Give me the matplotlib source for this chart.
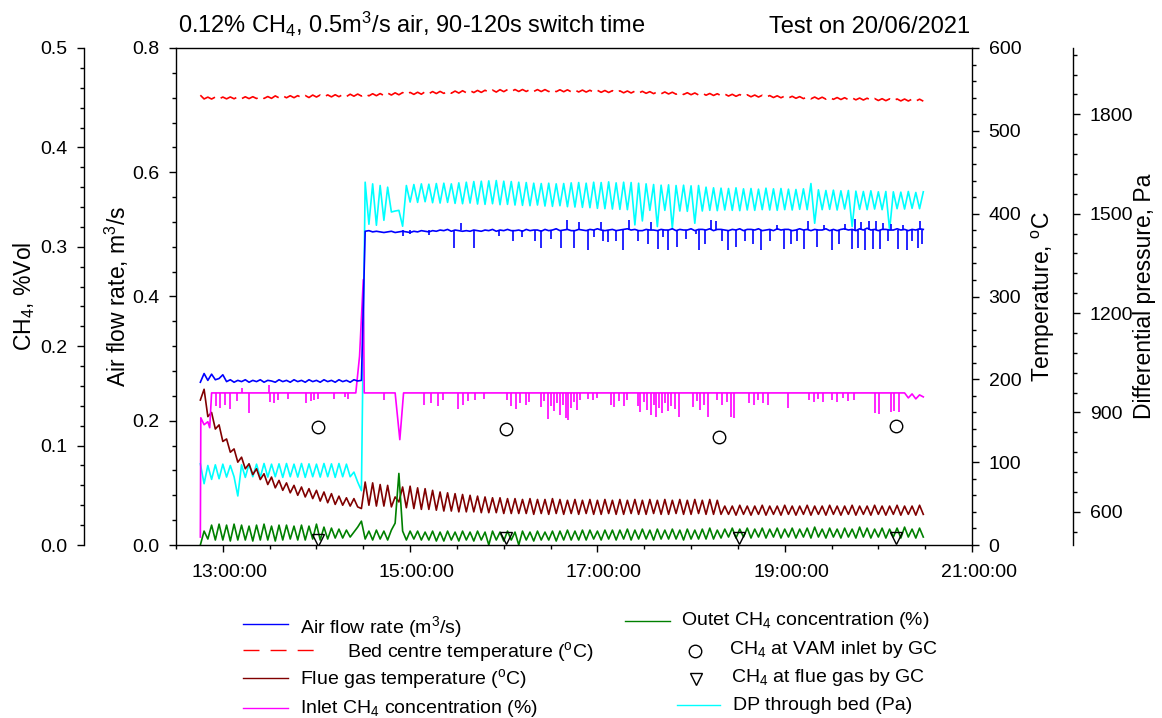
import numpy as np
import matplotlib
matplotlib.use("Agg")
import matplotlib.pyplot as plt
import matplotlib.transforms as mtransforms
from matplotlib.lines import Line2D
from matplotlib.ticker import MultipleLocator, FuncFormatter, FormatStrFormatter

plt.rcParams["font.family"] = "Liberation Sans"
plt.rcParams["mathtext.fontset"] = "custom"
plt.rcParams["mathtext.rm"] = "Liberation Sans"
plt.rcParams["mathtext.default"] = "regular"

# logger samples, every 0.04 h starting at 12:45:36 (time in hours)
t_start, t_step = 12.76, 0.04

air_flow = [
    0.262, 0.276, 0.265, 0.275, 0.266, 0.268, 0.274, 0.263, 0.266, 0.262,
    0.265, 0.263, 0.266, 0.262, 0.265, 0.263, 0.266, 0.262, 0.265, 0.264,
    0.262, 0.266, 0.263, 0.265, 0.262, 0.266, 0.263, 0.265, 0.262, 0.266,
    0.263, 0.265, 0.262, 0.266, 0.263, 0.265, 0.262, 0.266, 0.263, 0.265,
    0.262, 0.266, 0.264, 0.265, 0.505, 0.506, 0.504, 0.505, 0.504, 0.503,
    0.504, 0.505, 0.503, 0.504, 0.505, 0.504, 0.503, 0.505, 0.504, 0.506,
    0.505, 0.504, 0.506, 0.505, 0.507, 0.506, 0.508, 0.505, 0.507, 0.506,
    0.505, 0.506, 0.505, 0.507, 0.506, 0.505, 0.507, 0.506, 0.508, 0.505,
    0.507, 0.506, 0.508, 0.506, 0.506, 0.507, 0.505, 0.508, 0.506, 0.507,
    0.507, 0.505, 0.508, 0.506, 0.507, 0.509, 0.506, 0.507, 0.508, 0.506,
    0.506, 0.508, 0.507, 0.506, 0.508, 0.507, 0.509, 0.507, 0.506, 0.507,
    0.508, 0.506, 0.507, 0.508, 0.509, 0.507, 0.508, 0.506, 0.506, 0.508,
    0.507, 0.507, 0.506, 0.508, 0.507, 0.507, 0.509, 0.506, 0.508, 0.507,
    0.507, 0.509, 0.506, 0.508, 0.508, 0.507, 0.509, 0.506, 0.508, 0.508,
    0.507, 0.506, 0.508, 0.507, 0.509, 0.506, 0.508, 0.508, 0.507, 0.509,
    0.506, 0.507, 0.508, 0.506, 0.509, 0.507, 0.508, 0.508, 0.506, 0.507,
    0.509, 0.507, 0.508, 0.506, 0.508, 0.507, 0.507, 0.509, 0.506, 0.508,
    0.506, 0.508, 0.509, 0.507, 0.508, 0.506, 0.509, 0.507, 0.510, 0.507,
    0.508, 0.506, 0.508, 0.508, 0.507, 0.507, 0.509, 0.507, 0.508, 0.506,
    0.508, 0.507, 0.509, 0.508,
]
# short excursions of the air flow signal after the switch to 0.5 m3/s
air_spike_base = 0.507
air_spike_t = [
    14.92, 15.00, 15.20, 15.47, 15.545, 15.68, 15.95, 16.10, 16.20, 16.33,
    16.40, 16.50, 16.61, 16.68, 16.75, 16.80, 16.90, 16.96, 17.04, 17.06,
    17.11, 17.20, 17.27, 17.34, 17.43, 17.54, 17.57, 17.65, 17.70, 17.75,
    17.85, 17.95, 18.05, 18.09, 18.15, 18.21, 18.27, 18.33, 18.39, 18.48,
    18.58, 18.66, 18.75, 18.84, 18.92, 18.99, 19.07, 19.13, 19.21, 19.25,
    19.35, 19.42, 19.50, 19.58, 19.64, 19.72, 19.75, 19.78, 19.82, 19.86,
    19.90, 19.94, 19.98, 20.02, 20.05, 20.10, 20.14, 20.21, 20.26, 20.31,
    20.36, 20.42, 20.44, 20.47,
]
air_spike_v = [
    0.497, 0.500, 0.499, 0.478, 0.518, 0.478, 0.497, 0.490, 0.495, 0.490,
    0.478, 0.492, 0.478, 0.523, 0.478, 0.520, 0.475, 0.495, 0.520, 0.490,
    0.488, 0.490, 0.475, 0.523, 0.490, 0.485, 0.520, 0.476, 0.495, 0.475,
    0.480, 0.492, 0.500, 0.475, 0.485, 0.523, 0.521, 0.490, 0.475, 0.480,
    0.490, 0.485, 0.475, 0.490, 0.515, 0.476, 0.485, 0.490, 0.477, 0.522,
    0.480, 0.515, 0.475, 0.485, 0.517, 0.476, 0.524, 0.478, 0.520, 0.475,
    0.522, 0.477, 0.521, 0.476, 0.519, 0.490, 0.517, 0.476, 0.515, 0.475,
    0.490, 0.478, 0.522, 0.485,
]

bed_temp = [
    543.0, 538.5, 540.7, 538.4, 540.8, 538.5, 540.8, 538.6, 540.9, 538.7,
    541.0, 538.8, 541.1, 538.9, 541.2, 539.0, 541.3, 539.1, 541.4, 539.2,
    542.2, 539.8, 542.3, 539.9, 542.4, 540.0, 542.5, 540.1, 542.6, 540.2,
    543.2, 540.8, 543.3, 540.9, 543.4, 541.0, 543.6, 541.2, 543.8, 541.4,
    544.2, 541.8, 544.4, 542.0, 544.6, 542.2, 544.8, 542.4, 545.0, 542.6,
    545.6, 543.2, 545.9, 543.5, 546.2, 543.8, 546.4, 544.0, 546.6, 544.2,
    547.2, 544.8, 547.4, 545.0, 547.6, 545.2, 547.8, 545.4, 548.0, 545.6,
    548.4, 546.0, 548.6, 546.2, 548.8, 546.4, 549.0, 546.6, 549.2, 546.8,
    549.7, 547.3, 549.8, 547.4, 549.9, 547.5, 549.9, 547.5, 549.9, 547.5,
    549.8, 547.4, 549.8, 547.4, 549.7, 547.3, 549.6, 547.2, 549.5, 547.1,
    549.3, 546.9, 549.2, 546.8, 549.0, 546.6, 548.9, 546.5, 548.7, 546.3,
    548.5, 546.1, 548.3, 545.9, 548.1, 545.7, 547.9, 545.5, 547.7, 545.3,
    547.3, 544.9, 547.1, 544.7, 546.9, 544.5, 546.6, 544.2, 546.3, 543.9,
    546.0, 543.6, 545.7, 543.3, 545.4, 543.0, 545.1, 542.7, 544.8, 542.4,
    544.4, 542.0, 544.1, 541.7, 543.8, 541.4, 543.5, 541.1, 543.2, 540.8,
    542.9, 540.5, 542.6, 540.2, 542.3, 539.9, 542.0, 539.6, 541.7, 539.3,
    541.3, 538.9, 541.0, 538.6, 540.8, 538.4, 540.6, 538.2, 540.4, 538.0,
    540.2, 537.8, 540.0, 537.6, 539.8, 537.4, 539.6, 537.2, 539.4, 537.0,
    539.0, 536.6, 538.8, 536.4, 538.6, 536.2, 538.5, 536.1, 538.4, 536.0,
    538.3, 535.9, 538.2, 535.8,
]

flue_temp = [
    175, 188, 155, 160, 140, 145, 125, 128, 112, 116,
    100, 106, 92, 98, 85, 92, 79, 86, 73, 82,
    69, 78, 66, 75, 63, 72, 60, 70, 58, 68,
    56, 66, 53, 64, 51, 62, 49, 59, 48, 57,
    47, 56, 46, 44, 76, 48, 75, 47, 73, 47,
    72, 46, 58, 52, 70, 45, 71, 44, 69, 43,
    68, 43, 66, 42, 64, 41, 63, 41, 62, 40,
    61, 40, 60, 40, 59, 39, 58, 39, 57, 39,
    57, 38, 56, 38, 56, 38, 55, 38, 56, 37,
    55, 38, 55, 37, 56, 38, 55, 37, 54, 38,
    55, 37, 54, 38, 55, 37, 54, 37, 55, 38,
    54, 37, 55, 37, 54, 38, 55, 37, 54, 37,
    55, 38, 54, 37, 55, 37, 54, 38, 55, 37,
    54, 37, 55, 38, 54, 37, 55, 37, 54, 37,
    47, 37, 47, 36, 48, 37, 47, 36, 47, 37,
    48, 36, 47, 37, 47, 36, 48, 37, 47, 36,
    47, 37, 48, 36, 47, 37, 47, 36, 48, 37,
    47, 36, 47, 37, 48, 36, 47, 37, 47, 36,
    48, 37, 47, 36, 47, 37, 48, 36, 47, 37,
    47, 36, 48, 37,
]

# inlet CH4: break points of the trace, plus its short downward/upward excursions
inlet_t = [12.76, 12.765, 12.80, 12.84, 12.86, 12.88, 14.42, 14.46, 14.50, 14.51,
           14.84, 14.89, 14.93, 20.28, 20.32, 20.36, 20.40, 20.44, 20.48]
inlet_ch4 = [0.008, 0.128, 0.121, 0.124, 0.118, 0.153, 0.153, 0.190, 0.267, 0.153,
             0.153, 0.106, 0.153, 0.153, 0.148, 0.152, 0.147, 0.151, 0.149]
inlet_spike_base = 0.153
inlet_spike_t = [
    12.93, 12.97, 13.02, 13.08, 13.15, 13.20, 13.28, 13.49, 13.50, 13.55,
    13.59, 13.70, 13.89, 13.94, 13.97, 14.02, 14.19, 14.30, 14.34, 14.72,
    15.15, 15.22, 15.30, 15.35, 15.51, 15.57, 15.62, 15.69, 15.79, 16.03,
    16.08, 16.13, 16.17, 16.24, 16.27, 16.40, 16.43, 16.47, 16.50, 16.54,
    16.57, 16.60, 16.63, 16.66, 16.69, 16.72, 16.75, 16.78, 16.81, 16.90,
    16.95, 17.00, 17.14, 17.18, 17.23, 17.28, 17.32, 17.43, 17.46, 17.50,
    17.53, 17.57, 17.60, 17.63, 17.66, 17.69, 17.72, 17.75, 17.79, 17.83,
    17.87, 18.02, 18.06, 18.10, 18.14, 18.18, 18.28, 18.33, 18.38, 18.43,
    18.46, 18.62, 18.67, 18.72, 18.77, 18.82, 19.03, 19.26, 19.31, 19.36,
    19.41, 19.50, 19.56, 19.62, 19.68, 19.74, 19.96, 20.01, 20.13, 20.17,
    20.22,
]
inlet_spike_v = [
    0.140, 0.138, 0.141, 0.137, 0.145, 0.158, 0.133, 0.161, 0.144, 0.143,
    0.146, 0.147, 0.143, 0.145, 0.146, 0.147, 0.147, 0.149, 0.147, 0.146,
    0.141, 0.143, 0.140, 0.146, 0.137, 0.141, 0.145, 0.146, 0.147, 0.146,
    0.140, 0.137, 0.143, 0.141, 0.144, 0.139, 0.145, 0.127, 0.140, 0.135,
    0.143, 0.131, 0.141, 0.128, 0.126, 0.138, 0.144, 0.136, 0.146, 0.147,
    0.146, 0.148, 0.141, 0.139, 0.145, 0.140, 0.146, 0.140, 0.134, 0.144,
    0.136, 0.131, 0.141, 0.129, 0.138, 0.133, 0.143, 0.135, 0.140, 0.137,
    0.129, 0.139, 0.145, 0.136, 0.141, 0.129, 0.146, 0.141, 0.144, 0.129,
    0.128, 0.143, 0.141, 0.146, 0.143, 0.141, 0.138, 0.146, 0.144, 0.147,
    0.144, 0.146, 0.144, 0.148, 0.145, 0.146, 0.133, 0.132, 0.134, 0.135,
    0.134,
]

outlet_ch4 = [
    0.000, 0.014, 0.006, 0.020, 0.005, 0.021, 0.005, 0.020, 0.004, 0.021,
    0.005, 0.020, 0.005, 0.019, 0.004, 0.020, 0.005, 0.021, 0.005, 0.019,
    0.004, 0.020, 0.005, 0.020, 0.006, 0.019, 0.005, 0.020, 0.005, 0.019,
    0.006, 0.021, 0.005, 0.018, 0.006, 0.017, 0.007, 0.016, 0.007, 0.015,
    0.008, 0.013, 0.018, 0.024, 0.006, 0.014, 0.005, 0.015, 0.006, 0.014,
    0.005, 0.015, 0.022, 0.072, 0.014, 0.005, 0.014, 0.006, 0.014, 0.005,
    0.013, 0.005, 0.014, 0.004, 0.013, 0.004, 0.014, 0.005, 0.013, 0.004,
    0.014, 0.005, 0.013, 0.004, 0.014, 0.005, 0.013, 0.000, 0.014, 0.005,
    0.013, 0.004, 0.014, 0.005, 0.013, 0.000, 0.014, 0.005, 0.013, 0.004,
    0.014, 0.005, 0.013, 0.005, 0.014, 0.004, 0.014, 0.005, 0.015, 0.005,
    0.014, 0.005, 0.015, 0.005, 0.015, 0.006, 0.014, 0.005, 0.015, 0.006,
    0.015, 0.005, 0.015, 0.006, 0.016, 0.005, 0.015, 0.006, 0.016, 0.006,
    0.015, 0.005, 0.016, 0.006, 0.015, 0.006, 0.016, 0.006, 0.015, 0.005,
    0.016, 0.006, 0.015, 0.006, 0.016, 0.006, 0.017, 0.006, 0.015, 0.007,
    0.016, 0.008, 0.017, 0.007, 0.016, 0.008, 0.017, 0.007, 0.016, 0.008,
    0.017, 0.007, 0.016, 0.008, 0.017, 0.007, 0.016, 0.008, 0.017, 0.007,
    0.016, 0.008, 0.017, 0.007, 0.018, 0.008, 0.016, 0.007, 0.017, 0.008,
    0.016, 0.007, 0.017, 0.008, 0.016, 0.007, 0.018, 0.008, 0.017, 0.007,
    0.016, 0.008, 0.017, 0.007, 0.016, 0.008, 0.017, 0.007, 0.018, 0.008,
    0.016, 0.007, 0.017, 0.008,
]

dp_bed = [
    745, 685, 740, 698, 742, 700, 744, 705, 740, 706,
    648, 742, 704, 745, 706, 744, 704, 746, 705, 744,
    706, 745, 704, 746, 706, 744, 705, 746, 704, 745,
    706, 744, 705, 746, 706, 745, 704, 746, 706, 744,
    706, 720, 690, 664, 1595, 1468, 1590, 1465, 1585, 1480,
    1580, 1505, 1508, 1510, 1462, 1585, 1535, 1588, 1534, 1590,
    1536, 1589, 1533, 1591, 1532, 1592, 1534, 1590, 1531, 1593,
    1530, 1595, 1532, 1597, 1529, 1598, 1528, 1599, 1530, 1600,
    1527, 1598, 1528, 1597, 1526, 1595, 1525, 1594, 1524, 1592,
    1526, 1591, 1523, 1592, 1522, 1590, 1524, 1591, 1521, 1593,
    1520, 1594, 1519, 1592, 1518, 1595, 1516, 1594, 1515, 1596,
    1514, 1593, 1513, 1595, 1512, 1594, 1466, 1592, 1478, 1590,
    1510, 1588, 1461, 1586, 1510, 1587, 1456, 1585, 1508, 1586,
    1507, 1584, 1471, 1585, 1508, 1580, 1510, 1578, 1509, 1577,
    1511, 1576, 1510, 1578, 1509, 1575, 1511, 1576, 1510, 1574,
    1512, 1577, 1511, 1575, 1510, 1576, 1512, 1574, 1511, 1573,
    1513, 1575, 1512, 1591, 1471, 1572, 1512, 1570, 1513, 1571,
    1511, 1569, 1514, 1570, 1461, 1568, 1513, 1567, 1512, 1569,
    1514, 1566, 1512, 1567, 1451, 1566, 1515, 1565, 1514, 1567,
    1516, 1564, 1515, 1566,
]

# GC grab samples
gc_inlet_t = [14.02, 16.02, 18.30, 20.19]
gc_inlet = [0.119, 0.117, 0.109, 0.120]
gc_flue_t = [14.02, 16.02, 18.51, 20.19]
gc_flue = [0.0055, 0.007, 0.007, 0.007]

t = t_start + t_step * np.arange(len(air_flow))

W, H = 1162, 718
fig = plt.figure(figsize=(W / 100, H / 100), dpi=100)
ax = fig.add_axes([176 / W, 1 - 545 / H, 796 / W, 497 / H])
ax_dp = ax.twinx()
ax_t = ax.twinx()
ax_ch4 = ax.twinx()
ax.set_zorder(ax_ch4.get_zorder() + 1)
ax.patch.set_visible(False)

lw = 1.2
ax_dp.plot(t, dp_bed, color="#00FFFF", lw=lw)
ax_t.plot(t, bed_temp, color="#FF0000", lw=lw, dashes=(10.5, 3.8))
ax_t.plot(t, flue_temp, color="#800000", lw=lw)
ax_ch4.plot(inlet_t, inlet_ch4, color="#FF00FF", lw=lw)
ax_ch4.vlines(inlet_spike_t, inlet_spike_base, inlet_spike_v, color="#FF00FF", lw=lw)
ax_ch4.plot(t, outlet_ch4, color="#008000", lw=lw)
ax_ch4.plot(gc_inlet_t, gc_inlet, "o", ms=9, mfc="none", mec="black", mew=1.0)
ax_ch4.plot(gc_flue_t, gc_flue, "v", ms=9, mfc="none", mec="black", mew=1.0)
ax.plot(t, air_flow, color="#0000FF", lw=lw)
ax.vlines(air_spike_t, air_spike_base, air_spike_v, color="#0000FF", lw=lw)

# axes ranges / ticks
ax.set_xlim(12.5, 21.0)
ax.set_ylim(0, 0.8)
ax_ch4.set_ylim(0, 0.5)
ax_t.set_ylim(0, 600)
ax_dp.set_ylim(500, 2000)

ax.set_xticks([13, 15, 17, 19, 21])
ax.xaxis.set_minor_locator(MultipleLocator(0.5))
ax.xaxis.set_major_formatter(FuncFormatter(lambda v, p: f"{int(round(v)):02d}:00:00"))
ax.yaxis.set_major_locator(MultipleLocator(0.2))
ax.yaxis.set_minor_locator(MultipleLocator(0.04))
ax.yaxis.set_major_formatter(FormatStrFormatter("%.1f"))
ax_ch4.yaxis.set_major_locator(MultipleLocator(0.1))
ax_ch4.yaxis.set_minor_locator(MultipleLocator(0.02))
ax_ch4.yaxis.set_major_formatter(FormatStrFormatter("%.1f"))
ax_t.yaxis.set_major_locator(MultipleLocator(100))
ax_t.yaxis.set_minor_locator(MultipleLocator(20))
ax_dp.yaxis.set_major_locator(MultipleLocator(300))
ax_dp.yaxis.set_minor_locator(MultipleLocator(60))

# spines
ax.spines["right"].set_visible(False)
ax_ch4.yaxis.tick_left()
ax_ch4.yaxis.set_label_position("left")
ax_ch4.spines["left"].set_position(("axes", -0.1156))
for s in ["right", "top", "bottom"]:
    ax_ch4.spines[s].set_visible(False)
for s in ["left", "top", "bottom"]:
    ax_t.spines[s].set_visible(False)
    ax_dp.spines[s].set_visible(False)
ax_dp.spines["right"].set_position(("axes", 1.1273))

for a in [ax, ax_ch4, ax_t, ax_dp]:
    for s in a.spines.values():
        s.set_linewidth(1.0)
    a.tick_params(which="major", direction="out", length=5, width=1.0, labelsize=14, pad=7)
    a.tick_params(which="minor", direction="out", length=3, width=1.0)
ax.tick_params(axis="x", which="both", top=False, pad=8.5)

# labels
ax.set_ylabel("Air flow rate, m$^3$/s", fontsize=16.5)
ax.yaxis.set_label_coords(-0.056, 0.5)
ax_ch4.set_ylabel("CH$_4$, %Vol", fontsize=16.5)
ax_ch4.yaxis.set_label_coords(-0.175, 0.5)
ax_t.set_ylabel("Temperature, $^o$C", fontsize=16.5)
ax_t.yaxis.set_label_coords(1.0729, 0.5)
ax_dp.set_ylabel("Differential pressure, Pa", fontsize=16.5)
ax_dp.yaxis.set_label_coords(1.2023, 0.5)

shift = mtransforms.ScaledTranslation(6.5 / 100, 0, fig.dpi_scale_trans)
for lab in ax.get_xticklabels():
    lab.set_transform(lab.get_transform() + shift)

fig.text(178 / W, 1 - 33 / H, "0.12% CH$_4$, 0.5m$^3$/s air, 90-120s switch time",
         fontsize=17, ha="left", va="baseline")
fig.text(970 / W, 1 - 33 / H, "Test on 20/06/2021", fontsize=17, ha="right", va="baseline")


# legend, drawn by hand to keep the original arrangement
def fx(px):
    return px / W


def fy(py):
    return 1 - py / H


def leg_line(x0, x1, y, **kw):
    fig.add_artist(Line2D([fx(x0), fx(x1)], [fy(y), fy(y)], transform=fig.transFigure, lw=1.0, **kw))


def leg_text(x, y, s):
    fig.text(fx(x), fy(y), s, fontsize=14, ha="left", va="baseline")


leg_line(243, 288, 624, color="#0000FF")
leg_text(300, 633, "Air flow rate (m$^3$/s)")
leg_line(243, 317, 650, color="#FF0000", dashes=(11.5, 8))
leg_text(347, 657, "Bed centre temperature ($^o$C)")
leg_line(243, 288, 677.5, color="#800000")
leg_text(300, 684, "Flue gas temperature ($^o$C)")
leg_line(243, 288, 708, color="#FF00FF")
leg_text(300, 713, "Inlet CH$_4$ concentration (%)")

leg_line(625, 670, 620.5, color="#008000")
leg_text(681, 625, "Outet CH$_4$ concentration (%)")
fig.add_artist(Line2D([fx(695)], [fy(651)], transform=fig.transFigure, ls="none",
                      marker="o", ms=9, mfc="none", mec="black", mew=1.0))
leg_text(729, 654, "CH$_4$ at VAM inlet by GC")
fig.add_artist(Line2D([fx(695.5)], [fy(679)], transform=fig.transFigure, ls="none",
                      marker="v", ms=9, mfc="none", mec="black", mew=1.0))
leg_text(731, 682.5, "CH$_4$ at flue gas by GC")
leg_line(677, 720, 704.5, color="#00FFFF")
leg_text(733, 710.5, "DP through bed (Pa)")

fig.savefig("out.png", dpi=100)
